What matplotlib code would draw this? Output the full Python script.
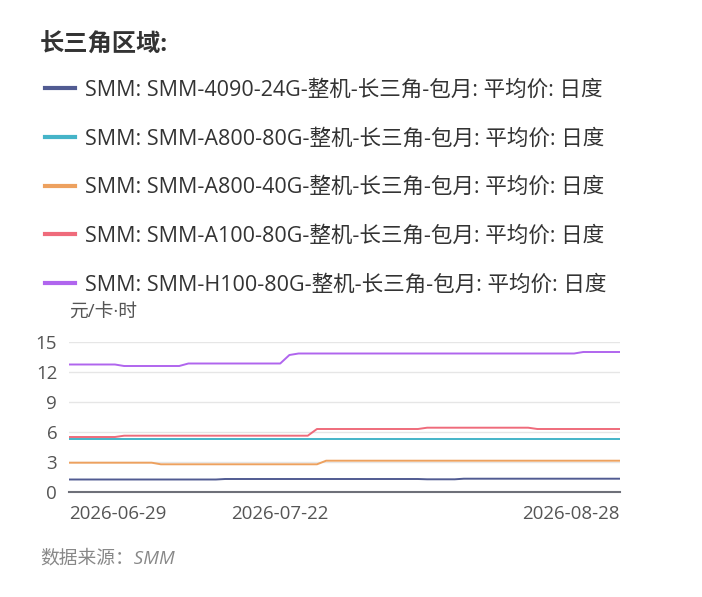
import matplotlib
matplotlib.use("Agg")
import matplotlib.pyplot as plt
import pandas as pd

plt.rcParams["font.family"] = ["Open Sans", "Noto Sans CJK SC", "DejaVu Sans"]

# daily dates, 2026-06-29 .. 2026-08-28
dates = pd.date_range("2026-06-29", "2026-08-28", freq="D")

labels = [
    "SMM: SMM-4090-24G-整机-长三角-包月: 平均价: 日度",
    "SMM: SMM-A800-80G-整机-长三角-包月: 平均价: 日度",
    "SMM: SMM-A800-40G-整机-长三角-包月: 平均价: 日度",
    "SMM: SMM-A100-80G-整机-长三角-包月: 平均价: 日度",
    "SMM: SMM-H100-80G-整机-长三角-包月: 平均价: 日度",
]
colors = ["#515b92", "#45b4c8", "#eda15f", "#ef6b7b", "#b065ee"]

p4090_24g = [
    1.25, 1.25, 1.25, 1.25, 1.25, 1.25, 1.25, 1.25, 1.25, 1.25,
    1.25, 1.25, 1.25, 1.25, 1.25, 1.25, 1.25, 1.3, 1.3, 1.3,
    1.3, 1.3, 1.3, 1.3, 1.3, 1.3, 1.3, 1.3, 1.3, 1.3,
    1.3, 1.3, 1.3, 1.3, 1.3, 1.3, 1.3, 1.3, 1.3, 1.27,
    1.27, 1.27, 1.27, 1.33, 1.33, 1.33, 1.33, 1.33, 1.33, 1.33,
    1.33, 1.33, 1.33, 1.33, 1.33, 1.33, 1.33, 1.33, 1.33, 1.33,
    1.33,
]
a800_80g = [
    5.3, 5.3, 5.3, 5.3, 5.3, 5.3, 5.3, 5.3, 5.3, 5.3,
    5.3, 5.3, 5.3, 5.3, 5.3, 5.3, 5.3, 5.3, 5.3, 5.3,
    5.3, 5.3, 5.3, 5.3, 5.3, 5.3, 5.3, 5.3, 5.3, 5.3,
    5.3, 5.3, 5.3, 5.3, 5.3, 5.3, 5.3, 5.3, 5.3, 5.3,
    5.3, 5.3, 5.3, 5.3, 5.3, 5.3, 5.3, 5.3, 5.3, 5.3,
    5.3, 5.3, 5.3, 5.3, 5.3, 5.3, 5.3, 5.3, 5.3, 5.3,
    5.3,
]
a800_40g = [
    2.93, 2.93, 2.93, 2.93, 2.93, 2.93, 2.93, 2.93, 2.93, 2.93,
    2.77, 2.77, 2.77, 2.77, 2.77, 2.77, 2.77, 2.77, 2.77, 2.77,
    2.77, 2.77, 2.77, 2.77, 2.77, 2.77, 2.77, 2.77, 3.13, 3.13,
    3.13, 3.13, 3.13, 3.13, 3.13, 3.13, 3.13, 3.13, 3.13, 3.13,
    3.13, 3.13, 3.13, 3.13, 3.13, 3.13, 3.13, 3.13, 3.13, 3.13,
    3.13, 3.13, 3.13, 3.13, 3.13, 3.13, 3.13, 3.13, 3.13, 3.13,
    3.13,
]
a100_80g = [
    5.5, 5.5, 5.5, 5.5, 5.5, 5.5, 5.63, 5.63, 5.63, 5.63,
    5.63, 5.63, 5.63, 5.63, 5.63, 5.63, 5.63, 5.63, 5.63, 5.63,
    5.63, 5.63, 5.63, 5.63, 5.63, 5.63, 5.63, 6.3, 6.3, 6.3,
    6.3, 6.3, 6.3, 6.3, 6.3, 6.3, 6.3, 6.3, 6.3, 6.43,
    6.43, 6.43, 6.43, 6.43, 6.43, 6.43, 6.43, 6.43, 6.43, 6.43,
    6.43, 6.3, 6.3, 6.3, 6.3, 6.3, 6.3, 6.3, 6.3, 6.3,
    6.3,
]
h100_80g = [
    12.75, 12.75, 12.75, 12.75, 12.75, 12.75, 12.6, 12.6, 12.6, 12.6,
    12.6, 12.6, 12.6, 12.85, 12.85, 12.85, 12.85, 12.85, 12.85, 12.85,
    12.85, 12.85, 12.85, 12.85, 13.7, 13.85, 13.85, 13.85, 13.85, 13.85,
    13.85, 13.85, 13.85, 13.85, 13.85, 13.85, 13.85, 13.85, 13.85, 13.85,
    13.85, 13.85, 13.85, 13.85, 13.85, 13.85, 13.85, 13.85, 13.85, 13.85,
    13.85, 13.85, 13.85, 13.85, 13.85, 13.85, 14.0, 14.0, 14.0, 14.0,
    14.0,
]
series = [p4090_24g, a800_80g, a800_40g, a100_80g, h100_80g]

yticks = [0, 3, 6, 9, 12, 15]
xtick_dates = ["2026-06-29", "2026-07-22", "2026-08-28"]

W, H = 702, 597
fig = plt.figure(figsize=(W / 100, H / 100), dpi=100)
ax = fig.add_axes([69 / W, 1 - 492 / H, 551 / W, 150 / H])

handles = []
for vals, lab, c in zip(series, labels, colors):
    (ln,) = ax.plot(dates, vals, color=c, lw=1.4, label=lab, zorder=3)
    handles.append(ln)

ax.set_ylim(0, 15)
ax.set_xlim(dates[0], dates[-1])
ax.set_yticks(yticks)
ax.grid(axis="y", color="#e6e6e6", lw=1)
ax.set_axisbelow(True)
for s in ["top", "right", "left"]:
    ax.spines[s].set_visible(False)
ax.spines["bottom"].set_color("#6e7079")
ax.spines["bottom"].set_linewidth(1.5)
ax.tick_params(axis="y", length=0, labelsize=13.5, labelcolor="#555555", pad=8.5)
ax.tick_params(axis="x", length=0, labelsize=13.5, labelcolor="#555555", pad=9.5)

ax.set_xticks(pd.to_datetime(xtick_dates))
ax.set_xticklabels(xtick_dates)
tl = ax.get_xticklabels()
tl[0].set_ha("left")
tl[-1].set_ha("right")

fig.text(40 / W, 1 - 46 / H, "长三角区域:", fontsize=17.5, fontweight="bold",
         color="#333333", va="center", ha="left")

fig.legend(handles=handles, labels=labels, loc="upper left",
           bbox_to_anchor=(45 / W, 1 - 79.5 / H), frameon=False, fontsize=15.5,
           labelcolor="#333333", handlelength=1.4, handletextpad=0.47,
           labelspacing=1.29, borderaxespad=0, borderpad=0)
for lh in fig.legends[0].get_lines():
    lh.set_linewidth(3)

fig.text(69 / W, 1 - 313 / H, "元/卡·时", fontsize=13.5, color="#555555",
         va="center", ha="left")
fig.text(40 / W, 1 - 558 / H, "数据来源：SMM", fontsize=13.5, color="#888888",
         style="italic", va="center", ha="left")

fig.savefig("out.png", dpi=100, facecolor="white")
